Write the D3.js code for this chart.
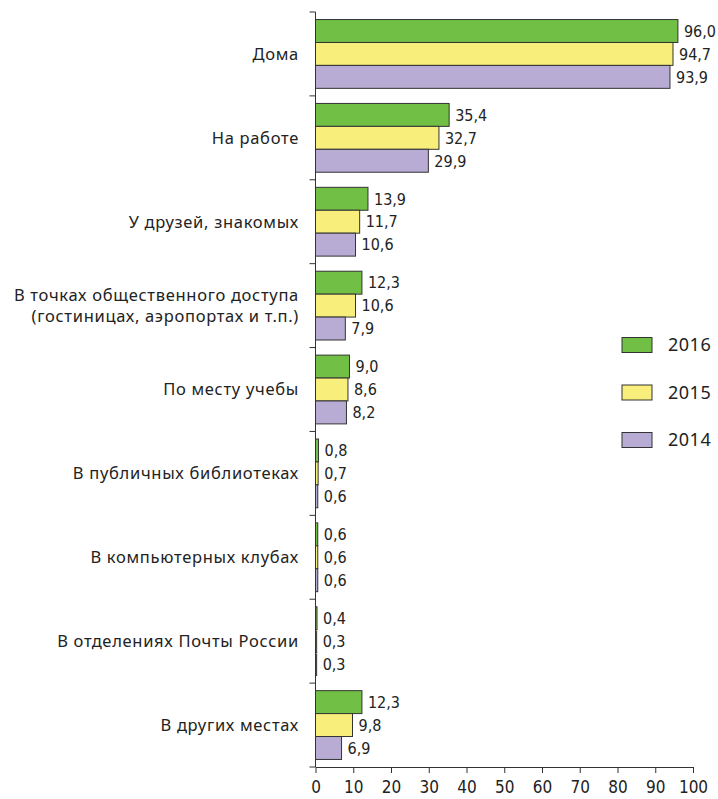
<!DOCTYPE html>
<html><head><meta charset="utf-8">
<script src="https://cdn.jsdelivr.net/npm/d3@7"></script>
<style>body{margin:0;background:#fff;}svg{display:block;}</style>
</head><body>
<script>
const categories = ["Дома","На работе","У друзей, знакомых","В точках общественного доступа\n(гостиницах, аэропортах и т.п.)","По месту учебы","В публичных библиотеках","В компьютерных клубах","В отделениях Почты России","В других местах"];
const years = ["2016","2015","2014"];
const v2016 = [96.0,35.4,13.9,12.3,9.0,0.8,0.6,0.4,12.3];
const v2015 = [94.7,32.7,11.7,10.6,8.6,0.7,0.6,0.3,9.8];
const v2014 = [93.9,29.9,10.6,7.9,8.2,0.6,0.6,0.3,6.9];
const xTicks = [0,10,20,30,40,50,60,70,80,90,100];
const colors = ["#71bf45","#f8ee7b","#b9acd4"];
const series = [v2016,v2015,v2014];

const W=718,H=799;
const svg=d3.select("body").append("svg").attr("width",W).attr("height",H);
const x=d3.scaleLinear().domain([0,100]).range([315.5,693]);
const y=d3.scaleBand().domain(categories).range([12,767]).paddingInner(0.18).paddingOuter(0.09);
const yOuter=d3.scaleBand().domain(categories).range([12,767]);
const ys=d3.scaleBand().domain(years).range([0,y.bandwidth()]);
const narrow="'Liberation Sans Narrow','DejaVu Sans Condensed',sans-serif";

// bars
series.forEach((vals,si)=>{
  svg.append("g").selectAll("rect").data(vals).join("rect")
    .attr("x",x(0)).attr("y",(d,i)=>y(categories[i])+ys(years[si]))
    .attr("width",d=>x(d)-x(0)).attr("height",ys.bandwidth())
    .attr("fill",colors[si]).attr("stroke","#333").attr("stroke-width",1);
  svg.append("g").selectAll("text").data(vals).join("text")
    .attr("x",d=>x(d)+6).attr("y",(d,i)=>y(categories[i])+ys(years[si])+ys.bandwidth()/2)
    .attr("dy","0.36em").attr("font-family",narrow).attr("font-size",16).attr("fill","#222")
    .text(d=>d.toFixed(1).replace(".",","));
});

// y axis
const gy=svg.append("g");
gy.append("line").attr("x1",x(0)).attr("x2",x(0)).attr("y1",12).attr("y2",767).attr("stroke","#333");
const bounds=categories.map(c=>yOuter(c)).concat([767]);
gy.selectAll("line.t").data(bounds).join("line").attr("class","t")
  .attr("x1",x(0)-6).attr("x2",x(0)).attr("y1",d=>d).attr("y2",d=>d).attr("stroke","#333");
// category labels
categories.forEach(c=>{
  const lines=c.split("\n");
  const cy=yOuter(c)+yOuter.bandwidth()/2;
  const t=svg.append("text").attr("text-anchor","end").attr("font-family","'Noto Sans',sans-serif")
    .attr("font-size",16.5).attr("letter-spacing","0.7px").attr("fill","#222");
  lines.forEach((l,i)=>{
    t.append("tspan").attr("x",299).attr("y",cy+(i-(lines.length-1)/2)*21).attr("dy","0.36em").text(l);
  });
});

// x axis
const gx=svg.append("g").attr("transform","translate(0,767)")
  .call(d3.axisBottom(x).tickValues(xTicks).tickSize(6).tickSizeOuter(0).tickPadding(8));
gx.select(".domain").attr("stroke","#333");
gx.selectAll(".tick line").attr("stroke","#333");
gx.selectAll("text").attr("font-family",narrow).attr("font-size",17).attr("fill","#222");

// legend
const lg=svg.append("g");
years.forEach((yr,i)=>{
  const cy=345+i*47.5;
  lg.append("rect").attr("x",622).attr("y",cy-7.5).attr("width",30).attr("height",15)
    .attr("fill",colors[i]).attr("stroke","#333");
  lg.append("text").attr("x",668).attr("y",cy).attr("dy","0.36em")
    .attr("font-family","'Noto Sans',sans-serif").attr("font-size",18).attr("letter-spacing","0.5px").attr("fill","#222").text(yr);
});
</script>
</body></html>
